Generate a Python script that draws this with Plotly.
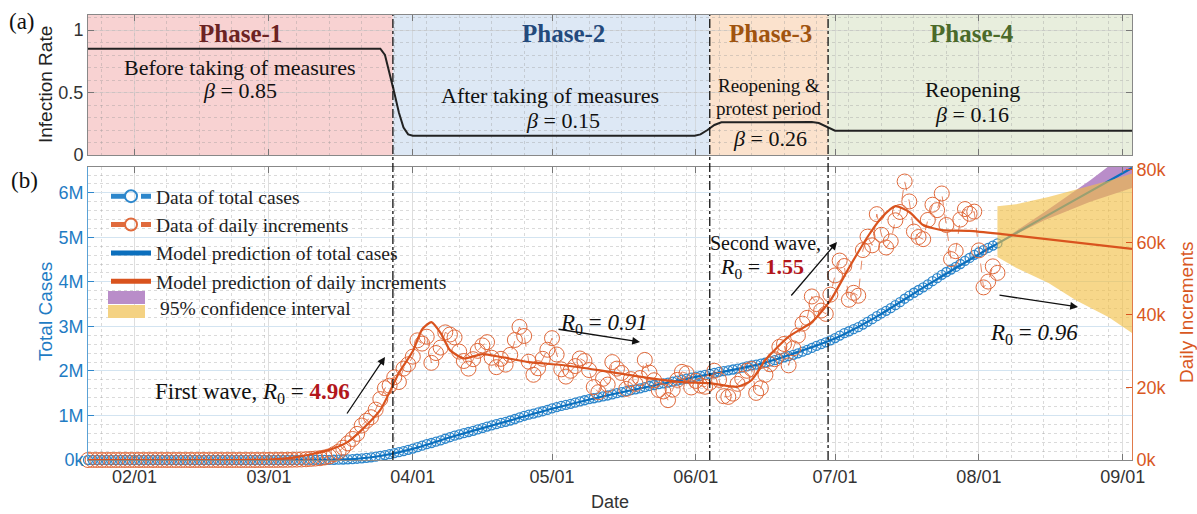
import plotly.graph_objects as go
import pandas as pd

# ---------------- data ----------------
start_date = "2020-01-22"
daily_k = [
    # Jan 22-31
    0, 0, 0, 0, 0, 0, 0, 0, 0, 0,
    # Feb
    0, 0, 0, 0, 0, 0, 0, 0, 0, 0, 0, 0, 0, 0, 0, 0, 0, 0, 0, 0, 0, 0, 0, 0, 0, 0, 0, 0, 0.01,
    # Mar
    0.02, 0.01, 0.02, 0.03, 0.05, 0.08, 0.1, 0.15, 0.2, 0.3, 0.4, 0.5, 0.7, 1.0, 1.6, 2.3,
    3.4, 4.6, 5.8, 7.2, 9.5, 10.8, 11.8, 13.9, 16.8, 19.8, 20.5, 22.8, 21.5, 25.2, 26.4,
    # Apr
    28.5, 33.0, 32.1, 34.0, 26.8, 29.5, 31.0, 35.2, 34.6, 33.8, 29.9, 27.3, 25.2, 27.8, 30.1,
    31.6, 32.5, 28.2, 25.6, 27.9, 26.3, 29.0, 33.1, 36.7, 34.2, 27.1, 23.5, 25.3, 27.9, 30.4,
    # May
    33.6, 29.1, 25.0, 23.0, 24.6, 25.9, 28.0, 27.3, 24.8, 20.1, 18.7, 22.4, 20.8, 27.0, 25.2,
    24.0, 19.6, 22.3, 21.0, 22.6, 27.6, 24.1, 22.0, 19.3, 18.9, 16.5, 19.4, 22.1, 24.3, 23.9, 20.0,
    # Jun
    21.8, 20.5, 20.2, 21.3, 24.6, 22.1, 17.6, 17.4, 18.3, 21.0, 22.4, 24.6, 25.1, 18.5, 19.8,
    23.5, 26.4, 27.8, 31.2, 32.0, 26.1, 30.8, 34.3, 37.6, 39.2, 45.1, 43.0, 41.2, 40.3, 45.6,
    # Jul
    50.9, 55.0, 53.5, 44.2, 46.1, 45.3, 57.9, 61.6, 59.2, 67.8, 62.1, 58.6, 60.3, 66.1, 68.4,
    76.8, 71.3, 63.0, 61.5, 60.9, 66.2, 70.4, 68.9, 73.5, 64.8, 55.4, 57.6, 66.3, 69.2, 67.9, 68.5,
    # Aug 1-5
    57.8, 47.6, 49.2, 53.4, 51.6,
]
total_k = [
    # Jan 22-31
    0, 0, 0, 0, 0, 0, 0, 0, 0, 0,
    # Feb
    0.01, 0.01, 0.01, 0.01, 0.01, 0.01, 0.01, 0.01, 0.01, 0.01, 0.01, 0.01, 0.01, 0.01, 0.02,
    0.02, 0.02, 0.02, 0.02, 0.02, 0.02, 0.03, 0.03, 0.04, 0.05, 0.05, 0.05, 0.06, 0.07,
    # Mar
    0.09, 0.1, 0.12, 0.15, 0.2, 0.28, 0.38, 0.53, 0.73, 1.0, 1.4, 1.9, 2.6, 3.6, 5.2, 7.5,
    10.9, 15.5, 21.3, 28.5, 38.0, 48.8, 60.6, 74.5, 91.3, 111.1, 131.6, 154.4, 175.9, 201.1, 227.5,
    # Apr
    256.0, 289.0, 321.1, 355.1, 381.9, 411.4, 442.4, 477.6, 512.2, 546.0, 575.9, 603.2, 628.4,
    656.2, 686.3, 717.9, 750.4, 778.6, 804.2, 832.1, 858.4, 887.4, 920.5, 957.2, 991.4, 1018.5,
    1042.0, 1067.3, 1095.2, 1125.6,
    # May
    1159.2, 1188.3, 1213.3, 1236.3, 1260.9, 1286.8, 1314.8, 1342.1, 1366.9, 1387.0, 1405.7,
    1428.1, 1448.9, 1475.9, 1501.1, 1525.1, 1544.7, 1567.0, 1588.0, 1610.6, 1638.2, 1662.3,
    1684.3, 1703.6, 1722.5, 1739.0, 1758.4, 1780.5, 1804.8, 1828.7, 1848.7,
    # Jun
    1870.5, 1891.0, 1911.2, 1932.5, 1957.1, 1979.2, 1996.8, 2014.2, 2032.5, 2053.5, 2075.9,
    2100.5, 2125.6, 2144.1, 2163.9, 2187.4, 2213.8, 2241.6, 2272.8, 2304.8, 2330.9, 2361.7,
    2396.0, 2433.6, 2472.8, 2517.9, 2560.9, 2602.1, 2642.4, 2688.0,
    # Jul
    2738.9, 2793.9, 2847.4, 2891.6, 2937.7, 2983.0, 3040.9, 3102.5, 3161.7, 3229.5, 3291.6,
    3350.2, 3410.5, 3476.6, 3545.0, 3621.8, 3693.1, 3756.1, 3817.6, 3878.5, 3944.7, 4015.1,
    4084.0, 4157.5, 4222.3, 4277.7, 4335.3, 4401.6, 4470.8, 4538.7, 4607.2,
    # Aug 1-5
    4665.0, 4712.6, 4761.8, 4815.2, 4866.8,
]
data_dates = pd.date_range(start_date, periods=len(daily_k), freq="D")

model_total_dates = ["2020-01-22", "2020-03-01", "2020-03-10", "2020-03-15", "2020-03-20",
                     "2020-03-25", "2020-04-01", "2020-04-10", "2020-04-20", "2020-05-01",
                     "2020-05-15", "2020-06-01", "2020-06-15", "2020-07-01", "2020-07-10",
                     "2020-07-20", "2020-08-01", "2020-08-05", "2020-08-20", "2020-09-03"]
model_total_k = [0, 0, 1, 5, 28, 90, 250, 540, 830, 1150, 1500, 1865, 2160, 2730, 3220,
                 3870, 4620, 4860, 5740, 6560]

model_daily_dates = ["2020-01-22", "2020-03-01", "2020-03-07", "2020-03-14", "2020-03-18",
                     "2020-03-21", "2020-03-25", "2020-03-29", "2020-04-01", "2020-04-03",
                     "2020-04-05", "2020-04-07", "2020-04-09", "2020-04-12", "2020-04-16",
                     "2020-04-20", "2020-04-26", "2020-05-03", "2020-05-11", "2020-05-22",
                     "2020-05-29", "2020-06-04", "2020-06-10", "2020-06-13", "2020-06-16",
                     "2020-06-21", "2020-06-26", "2020-06-30", "2020-07-04", "2020-07-08",
                     "2020-07-11", "2020-07-14", "2020-07-17", "2020-07-20", "2020-07-24",
                     "2020-07-30", "2020-08-06", "2020-09-03"]
model_daily_k = [0, 0.1, 0.8, 2.8, 5, 8.3, 13.8, 24, 30, 36, 38, 35, 30.3, 28, 29.2, 28.4, 27,
                 26.2, 24.8, 22.6, 21.5, 21.2, 20.2, 22, 27.6, 34, 38, 44, 53, 61.5, 66.8, 70,
                 68.4, 64.8, 63.4, 63.2, 62.3, 58.2]

ci_total_dates = ["2020-08-05", "2020-08-15", "2020-08-25", "2020-09-03"]
ci_total_lo_k = [4866, 5380, 5800, 6110]
ci_total_hi_k = [4866, 5560, 6280, 7000]

ci_daily_dates = ["2020-08-05", "2020-08-09", "2020-08-16", "2020-08-22", "2020-08-29", "2020-09-03"]
ci_daily_lo_k = [56, 53, 48.8, 44, 39.4, 35]
ci_daily_hi_k = [70, 70.5, 72.5, 74.5, 77, 79]

beta_dates = ["2020-01-22", "2020-03-25", "2020-03-26", "2020-03-27", "2020-03-28",
              "2020-03-29", "2020-03-30", "2020-03-31", "2020-04-01", "2020-05-31 18:00",
              "2020-06-02", "2020-06-03 12:00", "2020-06-05", "2020-06-06 12:00", "2020-06-26",
              "2020-06-27 12:00", "2020-06-29", "2020-06-30 12:00", "2020-07-01", "2020-09-03"]
beta_vals = [0.85, 0.85, 0.80, 0.66, 0.50, 0.34, 0.22, 0.165, 0.155, 0.155,
             0.165, 0.2, 0.24, 0.262, 0.264, 0.256, 0.23, 0.203, 0.195, 0.195]

phase_bounds = ["2020-01-22", "2020-03-27 17:00", "2020-06-04", "2020-06-29 12:00", "2020-09-03"]
phase_titles = ["Phase-1", "Phase-2", "Phase-3", "Phase-4"]
month_ticks = ["2020-02-01", "2020-03-01", "2020-04-01", "2020-05-01", "2020-06-01",
               "2020-07-01", "2020-08-01", "2020-09-01"]
month_labels = ["02/01", "03/01", "04/01", "05/01", "06/01", "07/01", "08/01", "09/01"]
total_ticks = [0, 1e6, 2e6, 3e6, 4e6, 5e6, 6e6]
total_labels = ["0k", "1M", "2M", "3M", "4M", "5M", "6M"]
daily_ticks = [0, 20e3, 40e3, 60e3, 80e3]
daily_labels = ["0k", "20k", "40k", "60k", "80k"]

# ---------------- styling ----------------
W, H = 1197, 514
L, R, T, B = 88, 65, 15, 54
PW, PH = W - L - R, H - T - B
BLUE = "#0b6fbd"
BLUE_D = "#2d87cc"
ORANGE = "#d9531e"
ORANGE_D = "#e06a3c"
PURPLE = "#b98dc9"
YELLOW = "rgba(242,190,66,0.62)"
SANS = "Liberation Sans, Arial, sans-serif"
SERIF = "Liberation Serif, Times New Roman, serif"
phase_fill = ["#f8d2d2", "#dde8f5", "#fbe2cd", "#e8eedd"]
phase_col = ["#6b2323", "#244a7c", "#a0540f", "#4b6a2a"]
xrange = ["2020-01-22", "2020-09-03"]
SP = "&nbsp;"


def px(x, y):
    return (x - L) / PW, (H - B - y) / PH


top_bottom = px(0, 155)[1]
bot_top = px(0, 167)[1]

fig = go.Figure()

# top panel
fig.add_trace(go.Scatter(x=beta_dates, y=beta_vals, mode="lines", line=dict(color="#222", width=2),
                         xaxis="x", yaxis="y", showlegend=False))

# bottom panel, left axis (total cases)
fig.add_trace(go.Scatter(x=ci_total_dates, y=[v * 1000 for v in ci_total_lo_k], mode="lines",
                         line=dict(width=0), xaxis="x2", yaxis="y2", showlegend=False,
                         hoverinfo="skip"))
fig.add_trace(go.Scatter(x=ci_total_dates, y=[v * 1000 for v in ci_total_hi_k], mode="lines",
                         line=dict(width=0), fill="tonexty", fillcolor=PURPLE,
                         xaxis="x2", yaxis="y2", showlegend=False))
fig.add_trace(go.Scatter(x=data_dates, y=[v * 1000 for v in total_k], mode="lines+markers",
                         line=dict(color=BLUE_D, width=0.8, dash="dash"),
                         marker=dict(symbol="circle-open", size=9, color=BLUE_D, line=dict(width=1.3)),
                         cliponaxis=False, xaxis="x2", yaxis="y2", name="Data of total cases",
                         legendrank=1))
fig.add_trace(go.Scatter(x=model_total_dates, y=[v * 1000 for v in model_total_k], mode="lines",
                         line=dict(color=BLUE, width=2.2, shape="spline", smoothing=0.6),
                         xaxis="x2", yaxis="y2", name="Model prediction of total cases",
                         legendrank=3))

# bottom panel, right axis (daily increments)
fig.add_trace(go.Scatter(x=ci_daily_dates, y=[v * 1000 for v in ci_daily_lo_k], mode="lines",
                         line=dict(width=0), xaxis="x2", yaxis="y3", showlegend=False,
                         hoverinfo="skip"))
fig.add_trace(go.Scatter(x=ci_daily_dates, y=[v * 1000 for v in ci_daily_hi_k], mode="lines",
                         line=dict(width=0), fill="tonexty", fillcolor=YELLOW,
                         xaxis="x2", yaxis="y3", showlegend=False))
fig.add_trace(go.Scatter(x=data_dates, y=[v * 1000 for v in daily_k], mode="lines+markers",
                         line=dict(color=ORANGE_D, width=0.8, dash="dash"),
                         marker=dict(symbol="circle-open", size=15, color=ORANGE_D, line=dict(width=1)),
                         cliponaxis=False, xaxis="x2", yaxis="y3", name="Data of daily increments",
                         legendrank=2))
fig.add_trace(go.Scatter(x=model_daily_dates, y=[v * 1000 for v in model_daily_k], mode="lines",
                         line=dict(color=ORANGE, width=2.2, shape="spline", smoothing=0.6),
                         xaxis="x2", yaxis="y3", name="Model prediction of daily increments",
                         legendrank=4))

shapes = []
for i in range(4):
    shapes.append(dict(type="rect", xref="x", yref="y", x0=phase_bounds[i], x1=phase_bounds[i + 1],
                       y0=0, y1=1.12, fillcolor=phase_fill[i], line=dict(width=0), layer="below"))
for b in phase_bounds[1:4]:
    shapes.append(dict(type="line", xref="x2", yref="paper", x0=b, x1=b, y0=0, y1=1,
                       line=dict(color="#111", width=1.3, dash="dashdot")))

# legend swatches for the confidence intervals (purple over yellow)
for (y0, y1, col) in [(291, 304, PURPLE), (305, 318, "#f4d283")]:
    ax0, ay0 = px(108, y1)
    ax1, ay1 = px(145, y0)
    shapes.append(dict(type="rect", xref="paper", yref="paper", x0=ax0, x1=ax1, y0=ay0, y1=ay1,
                       fillcolor=col, line=dict(width=0)))

ann = []


def text(x, y, s, size=20, color="#111", font=SERIF, xanchor="center", angle=0):
    ax, ay = px(x, y)
    ann.append(dict(x=ax, y=ay, xref="paper", yref="paper", text=s, showarrow=False,
                    font=dict(family=font, size=size, color=color), xanchor=xanchor,
                    yanchor="middle", textangle=angle))


def arrow(x0, y0, x1, y1):
    hx, hy = px(x1, y1)
    ann.append(dict(x=hx, y=hy, xref="paper", yref="paper", text="", showarrow=True,
                    ax=x0 - x1, ay=y0 - y1, arrowhead=2, arrowsize=1.2, arrowwidth=1.3,
                    arrowcolor="#111"))


def beta(v):
    return "<i>β</i>" + SP + "=" + SP + v


def r0(v, bold=False, italic=False):
    if bold:
        val = "<b><span style='color:#b3161b'>%s</span></b>" % v
    elif italic:
        val = "<i>%s</i>" % v
    else:
        val = v
    return "<i>R</i><sub>0</sub>" + SP + "=" + SP + val


phase_x = [240, 563, 770, 972]
for i in range(4):
    text(phase_x[i], 33, "<b>%s</b>" % phase_titles[i], size=25, color=phase_col[i])
text(240, 67, "Before taking of measures", size=22)
text(240, 91, beta("0.85"), size=22)
text(550, 95, "After taking of measures", size=22)
text(563, 120, beta("0.15"), size=22)
text(769, 85, "Reopening &amp;", size=19)
text(769, 108, "protest period", size=19)
text(770, 138, beta("0.26"), size=22)
text(972, 89, "Reopening", size=22)
text(972, 114, beta("0.16"), size=22)
text(22, 22, "(a)", size=23)
text(24, 180, "(b)", size=23)
text(158, 308, "95% confidence interval", size=19.5, color="#222", xanchor="left")

text(252, 393, "First wave, " + r0("4.96", bold=True), size=23)
arrow(346, 415, 385, 357)
text(604, 324, r0("0.91", italic=True), size=23)
arrow(557, 329, 640, 342)
text(765, 243, "Second wave,", size=20)
text(762, 268, r0("1.55", bold=True), size=22)
arrow(790, 297, 837, 242)
text(1034, 334, r0("0.96", italic=True), size=23)
arrow(998, 295, 1078, 307)

# axis titles
text(45, 85, "Infection Rate", size=19, color="#222", font=SANS, angle=-90)
text(45, 312, "Total Cases", size=19, color="#1f7cc4", font=SANS, angle=-90)
text(1186, 312, "Daily Increments", size=19, color="#d9581f", font=SANS, angle=-90)
text(610, 502, "Date", size=18, color="#333", font=SANS)

fig.update_layout(
    width=W, height=H, margin=dict(l=L, r=R, t=T, b=B, autoexpand=False),
    paper_bgcolor="white", plot_bgcolor="white",
    shapes=shapes, annotations=ann,
    showlegend=True,
    legend=dict(x=(106 - L) / PW, y=px(0, 177)[1], xanchor="left", yanchor="top",
                traceorder="normal",
                bgcolor="rgba(0,0,0,0)", font=dict(family=SERIF, size=19.5, color="#222"),
                tracegroupgap=0, itemwidth=40, itemsizing="constant"),
    xaxis=dict(domain=[0, 1], anchor="y", type="date", range=xrange, tickvals=month_ticks,
               showticklabels=False, ticks="inside", ticklen=6, tickcolor="#777",
               showline=True, linecolor="#888", mirror="ticks", showgrid=True,
               gridcolor="rgba(200,200,200,0.5)", automargin=False,
               minor=dict(dtick=7 * 86400000, tick0="2020-01-25", showgrid=True,
                          gridcolor="rgba(150,150,150,0.35)", griddash="dot")),
    yaxis=dict(domain=[top_bottom, 1], anchor="x", range=[0, 1.12], tickvals=[0, 0.5, 1],
               ticktext=["0", "0.5", "1"], ticks="inside", ticklen=6, tickcolor="#777",
               tickfont=dict(family=SANS, size=18, color="#333"), automargin=False,
               showline=True, linecolor="#888", mirror="ticks", showgrid=True,
               gridcolor="rgba(200,200,200,0.5)", zeroline=False,
               minor=dict(dtick=0.1, showgrid=True, gridcolor="rgba(150,150,150,0.35)",
                          griddash="dot")),
    xaxis2=dict(domain=[0, 1], anchor="y2", type="date", range=xrange, tickvals=month_ticks,
                ticktext=month_labels, ticks="inside", ticklen=6, tickcolor="#777",
                tickfont=dict(family=SANS, size=18, color="#333"), automargin=False,
                showline=True, linecolor="#888", mirror="ticks", showgrid=True,
                gridcolor="#dedede",
                minor=dict(dtick=7 * 86400000, tick0="2020-01-25", showgrid=True,
                           gridcolor="rgba(150,150,150,0.35)", griddash="dot")),
    yaxis2=dict(domain=[0, bot_top], anchor="x2", range=[0, 6.58e6], tickvals=total_ticks,
                ticktext=total_labels, ticks="inside", ticklen=6, tickcolor=BLUE_D,
                tickfont=dict(family=SANS, size=18, color="#1f7cc4"), automargin=False,
                showline=True, linecolor="#5aa2d6", showgrid=True, gridcolor="#d3e4f1",
                zeroline=False,
                minor=dict(dtick=2e5, showgrid=True, gridcolor="rgba(150,150,150,0.35)",
                           griddash="dot")),
    yaxis3=dict(overlaying="y2", anchor="x2", side="right", range=[0, 80.8e3],
                tickvals=daily_ticks, ticktext=daily_labels, ticks="inside", ticklen=6,
                tickcolor=ORANGE, tickfont=dict(family=SANS, size=18, color="#d9581f"),
                automargin=False,
                showline=True, linecolor="#e07a4a", showgrid=False, zeroline=False),
)

fig.write_html("out.html", config={"displayModeBar": False},
               post_script="document.body.style.margin='0';")
